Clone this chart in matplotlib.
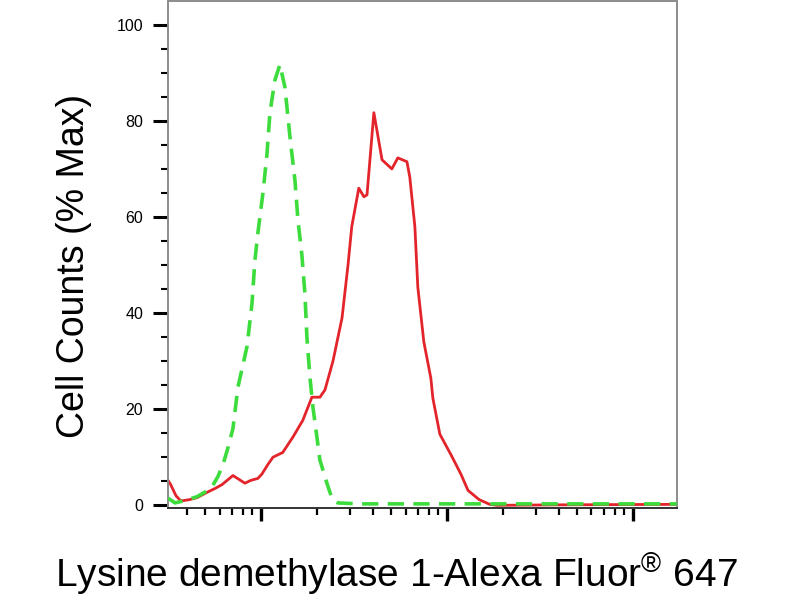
import matplotlib
matplotlib.use('Agg')
import matplotlib.pyplot as plt
from matplotlib.ticker import LogLocator, MultipleLocator, NullFormatter

plt.rcParams['font.family'] = ['Liberation Sans', 'DejaVu Sans']
plt.rcParams['mathtext.fontset'] = 'custom'
plt.rcParams['mathtext.rm'] = 'Liberation Sans'

# fluorescence intensity (log scale) vs % of max
red_x = [3.16, 3.26, 3.49, 3.71, 4.15, 4.53, 5.19, 5.66, 6.17, 7.07, 8.20, 8.83,
         9.63, 10.12, 10.9, 11.6, 13.1, 14.86, 16.8, 18.8, 20.76, 22.09, 24.4,
         27.3, 29.4, 30.8, 33.6, 35.8, 37.2, 40.5, 44.8, 50.6, 54.5, 61.0, 63.2,
         67.3, 69.8, 75.2, 82.0, 84.1, 91.7, 105, 119, 130, 149, 170, 186, 406, 1726]
red_y = [5.2, 4.4, 2.0, 0.9, 1.2, 1.6, 2.8, 3.5, 4.3, 6.2, 4.6, 5.2,
         5.6, 6.5, 8.5, 10.0, 11.0, 14.2, 17.7, 22.5, 22.5, 24.0, 30.0,
         39.0, 50.0, 58.0, 66.0, 64.2, 64.6, 81.7, 71.9, 70.0, 72.3, 71.5, 68.3,
         58.0, 45.4, 34.0, 26.5, 22.3, 14.8, 10.6, 6.5, 3.1, 1.2, 0.2, 0.0, 0.1, 0.2]

green_x = [3.16, 3.45, 3.90, 4.53, 5.13, 5.52, 5.87, 6.25, 6.65, 7.07, 7.52, 8.41,
           8.95, 9.28, 9.63, 10.25, 10.77, 11.18, 11.89, 12.65, 13.46, 14.32,
           15.23, 15.81, 16.61, 17.24, 17.67, 18.34, 19.04, 20.0, 20.76, 22.64,
           24.08, 25.94, 34.0, 1726]
green_y = [1.5, 0.5, 1.0, 1.8, 3.0, 4.2, 6.0, 8.5, 12.0, 16.0, 24.6, 33.0,
           42.0, 51.0, 56.7, 65.0, 73.0, 81.7, 88.5, 91.7, 87.0, 76.7,
           67.7, 59.4, 52.0, 44.0, 35.0, 26.7, 20.4, 14.2, 9.4, 4.6,
           1.5, 0.5, 0.3, 0.3]

fig = plt.figure(figsize=(8, 6), dpi=100)
ax = fig.add_axes([0.21, 0.153, 0.636, 0.845])

ax.plot(red_x, red_y, color='#e3242b', lw=2.0, zorder=2)
g, = ax.plot(green_x, green_y, color='#3ddc3d', lw=2.6, zorder=3)
g.set_dashes((4.5, 2.6))

ax.set_xscale('log')
ax.set_xlim(10 ** 0.5, 1726)
ax.set_ylim(-0.6, 104.9)

ax.xaxis.set_major_locator(LogLocator(base=10, numticks=10))
ax.xaxis.set_minor_locator(LogLocator(base=10, subs=range(2, 10), numticks=20))
ax.xaxis.set_major_formatter(NullFormatter())
ax.xaxis.set_minor_formatter(NullFormatter())
ax.yaxis.set_major_locator(MultipleLocator(20))
ax.yaxis.set_minor_locator(MultipleLocator(5))

ax.tick_params(axis='x', which='major', length=9, width=2.4, color='black')
ax.tick_params(axis='x', which='minor', length=5, width=1.6, color='black')
ax.tick_params(axis='y', which='major', length=11, width=2.2, pad=7,
               labelsize=11.5, color='black')
ax.tick_params(axis='y', which='minor', length=5, width=1.5, color='black')

for side, sp in ax.spines.items():
    sp.set_color('#8c8c8c')
    sp.set_linewidth(1.4)
ax.spines['bottom'].set_color('#333333')

ax.set_ylabel('Cell Counts (% Max)', fontsize=27)
ax.yaxis.set_label_coords(-0.149, 0.477)
ax.set_xlabel(r'Lysine demethylase 1-Alexa Fluor$^{®}$ 647', fontsize=28)
ax.xaxis.set_label_coords(0.448, -0.084)

plt.savefig('out.png', dpi=100)
plt.close()
